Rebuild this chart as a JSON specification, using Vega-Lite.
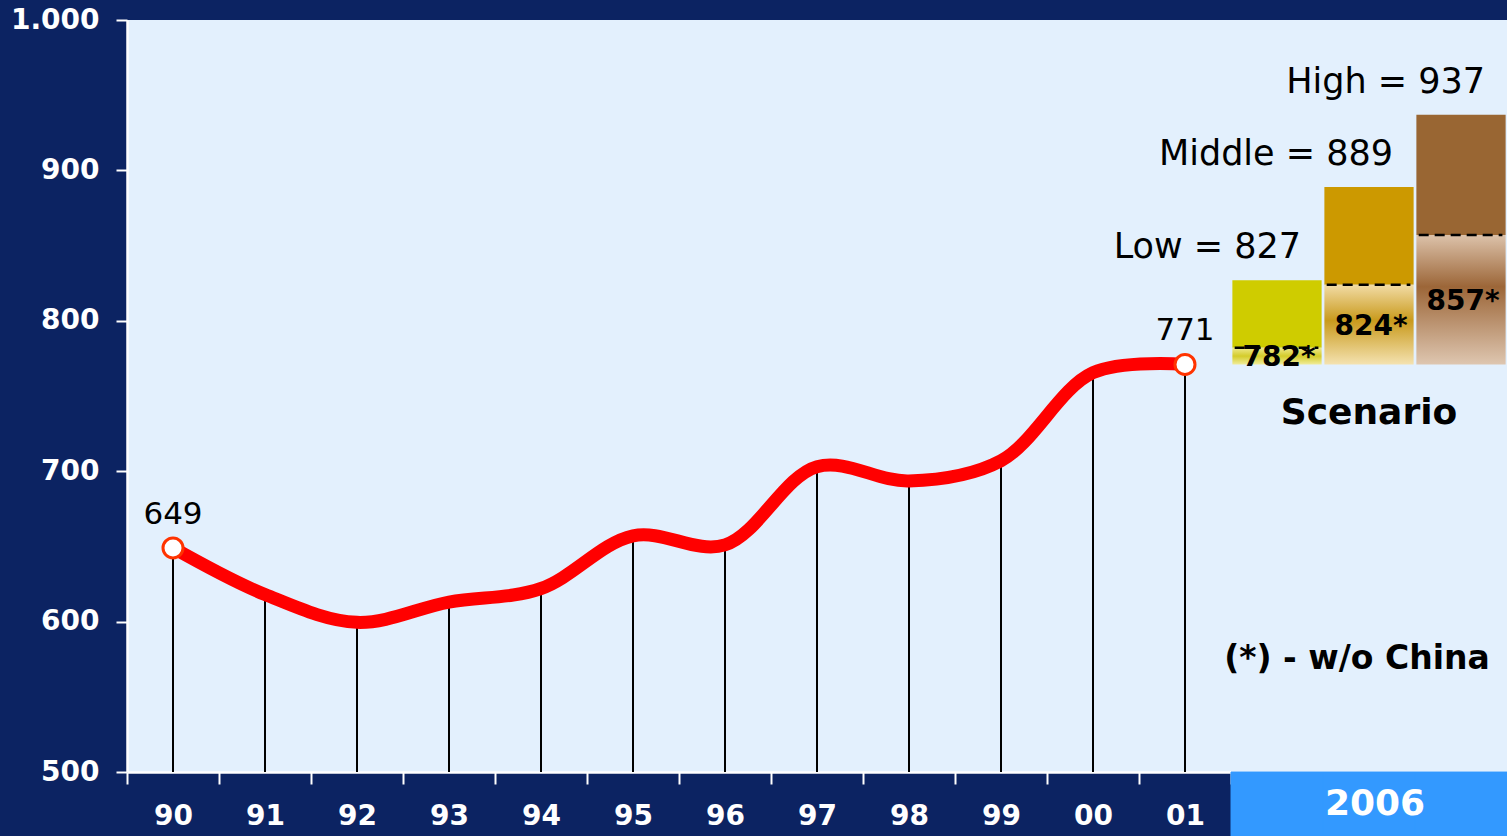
{
  "$schema": "https://vega.github.io/schema/vega-lite/v6.json",
  "width": 1380,
  "height": 752,
  "autosize": {"type": "none"},
  "padding": {"left": 127, "top": 20, "right": 0, "bottom": 64},
  "background": "#0c2362",
  "config": {"view": {"fill": "#E3F0FD", "stroke": null}, "font": "DejaVu Sans"},
  "datasets": {
    "hist": [
      {"cat": "90", "value": 649},
      {"cat": "91", "value": 618},
      {"cat": "92", "value": 599.5},
      {"cat": "93", "value": 613},
      {"cat": "94", "value": 622},
      {"cat": "95", "value": 657},
      {"cat": "96", "value": 651},
      {"cat": "97", "value": 703},
      {"cat": "98", "value": 693.5},
      {"cat": "99", "value": 707},
      {"cat": "00", "value": 765.5},
      {"cat": "01", "value": 771}
    ],
    "scen": [
      {"cat": "Low", "base": 771, "woChina": 782, "total": 827, "star": "782*", "title": "Low = 827"},
      {"cat": "Middle", "base": 771, "woChina": 824, "total": 889, "star": "824*", "title": "Middle = 889"},
      {"cat": "High", "base": 771, "woChina": 857, "total": 937, "star": "857*", "title": "High = 937"}
    ]
  },
  "encoding": {
    "x": {
      "field": "cat",
      "type": "nominal",
      "scale": {"domain": ["90","91","92","93","94","95","96","97","98","99","00","01","Low","Middle","High"], "paddingInner": 0, "paddingOuter": 0},
      "axis": {
        "title": null,
        "labelExpr": "indexof(['Low','Middle','High'], datum.value) >= 0 ? '' : datum.label",
        "labelColor": "white",
        "labelFont": "DejaVu Sans",
        "labelFontWeight": "bold",
        "labelFontSize": 28,
        "labelAngle": 0,
        "labelPadding": 18,
        "tickBand": "extent",
        "tickColor": "white",
        "tickSize": 12,
        "tickWidth": 2,
        "domainColor": "white",
        "domainWidth": 2.5,
        "grid": false,
        "zindex": 0
      }
    }
  },
  "layer": [
    {
      "data": {"name": "hist"},
      "mark": {"type": "rule", "color": "black", "strokeWidth": 2},
      "encoding": {
        "y": {
          "field": "value",
          "type": "quantitative",
          "scale": {"domain": [500, 1000], "nice": false, "zero": false},
          "axis": {
            "title": null,
            "values": [500, 600, 700, 800, 900, 1000],
            "labelExpr": "datum.value == 1000 ? '1.000' : datum.label",
            "labelColor": "white",
            "labelFont": "DejaVu Sans",
            "labelFontWeight": "bold",
            "labelFontSize": 28,
            "labelPadding": 17,
            "tickColor": "white",
            "tickSize": 11,
            "tickWidth": 2,
            "domainColor": "white",
            "domainWidth": 2.5,
            "grid": false,
            "zindex": 0
          }
        },
        "y2": {"datum": 500}
      }
    },
    {
      "data": {"name": "hist"},
      "mark": {"type": "line", "interpolate": "catmull-rom", "color": "#FF0000", "strokeWidth": 13, "strokeCap": "round", "strokeJoin": "round"},
      "encoding": {
        "y": {"field": "value", "type": "quantitative", "scale": {"domain": [500, 1000], "nice": false, "zero": false}, "title": null}
      }
    },
    {
      "data": {"name": "hist"},
      "transform": [{"filter": "datum.cat == '90' || datum.cat == '01'"}],
      "mark": {"type": "circle", "fill": "white", "stroke": "#FF3300", "strokeWidth": 3, "size": 400, "opacity": 1},
      "encoding": {
        "y": {"field": "value", "type": "quantitative", "scale": {"domain": [500, 1000], "nice": false, "zero": false}, "title": null}
      }
    },
    {
      "data": {"name": "hist"},
      "transform": [{"filter": "datum.cat == '90' || datum.cat == '01'"}],
      "mark": {"type": "text", "fontSize": 31, "dy": -24, "baseline": "alphabetic", "color": "black"},
      "encoding": {
        "y": {"field": "value", "type": "quantitative", "scale": {"domain": [500, 1000], "nice": false, "zero": false}, "title": null},
        "text": {"field": "value", "type": "quantitative", "format": "d"}
      }
    },
    {
      "data": {"name": "scen"},
      "mark": {"type": "bar", "width": {"band": 0.97}},
      "encoding": {
        "y": {"field": "woChina", "type": "quantitative", "scale": {"domain": [500, 1000], "nice": false, "zero": false}, "title": null},
        "y2": {"field": "total"},
        "color": {"field": "cat", "type": "nominal", "scale": {"domain": ["Low", "Middle", "High"], "range": ["#CFCC00", "#CC9900", "#996633"]}, "legend": null}
      }
    },
    {
      "data": {"name": "scen"},
      "transform": [{"filter": "datum.cat == 'Low'"}],
      "mark": {"type": "bar", "width": {"band": 0.97}, "fill": {"gradient": "linear", "x1": 0, "y1": 0, "x2": 0, "y2": 1, "stops": [{"offset": 0, "color": "#EEE98C"}, {"offset": 0.5, "color": "#D4CC2A"}, {"offset": 1, "color": "#F0EC9A"}]}},
      "encoding": {
        "y": {"field": "base", "type": "quantitative", "scale": {"domain": [500, 1000], "nice": false, "zero": false}, "title": null},
        "y2": {"field": "woChina"}
      }
    },
    {
      "data": {"name": "scen"},
      "transform": [{"filter": "datum.cat == 'Middle'"}],
      "mark": {"type": "bar", "width": {"band": 0.97}, "fill": {"gradient": "linear", "x1": 0, "y1": 0, "x2": 0, "y2": 1, "stops": [{"offset": 0, "color": "#F2DCA6"}, {"offset": 0.45, "color": "#C99A1C"}, {"offset": 1, "color": "#F4E2B0"}]}},
      "encoding": {
        "y": {"field": "base", "type": "quantitative", "scale": {"domain": [500, 1000], "nice": false, "zero": false}, "title": null},
        "y2": {"field": "woChina"}
      }
    },
    {
      "data": {"name": "scen"},
      "transform": [{"filter": "datum.cat == 'High'"}],
      "mark": {"type": "bar", "width": {"band": 0.97}, "fill": {"gradient": "linear", "x1": 0, "y1": 0, "x2": 0, "y2": 1, "stops": [{"offset": 0, "color": "#DCC2AA"}, {"offset": 0.4, "color": "#9C6638"}, {"offset": 1, "color": "#DEC6B0"}]}},
      "encoding": {
        "y": {"field": "base", "type": "quantitative", "scale": {"domain": [500, 1000], "nice": false, "zero": false}, "title": null},
        "y2": {"field": "woChina"}
      }
    },
    {
      "data": {"name": "scen"},
      "mark": {"type": "rule", "color": "black", "strokeWidth": 2.5, "strokeDash": [10, 6]},
      "encoding": {
        "x": {"field": "cat", "type": "nominal", "bandPosition": 0.04, "scale": {"domain": ["90","91","92","93","94","95","96","97","98","99","00","01","Low","Middle","High"], "paddingInner": 0, "paddingOuter": 0}, "title": null},
        "x2": {"field": "cat", "bandPosition": 0.95},
        "y": {"field": "woChina", "type": "quantitative", "scale": {"domain": [500, 1000], "nice": false, "zero": false}, "title": null}
      }
    },
    {
      "data": {"name": "scen"},
      "transform": [{"calculate": "(datum.base + datum.woChina) / 2", "as": "mid"}],
      "mark": {"type": "text", "fontSize": 28, "fontWeight": "bold", "color": "black", "baseline": "middle", "dx": 2, "dy": 2},
      "encoding": {
        "y": {"field": "mid", "type": "quantitative", "scale": {"domain": [500, 1000], "nice": false, "zero": false}, "title": null},
        "text": {"field": "star", "type": "nominal"}
      }
    },
    {
      "data": {"name": "scen"},
      "mark": {"type": "text", "fontSize": 35, "color": "black", "align": "right", "baseline": "alphabetic", "dx": 24, "dy": -22},
      "encoding": {
        "y": {"field": "total", "type": "quantitative", "scale": {"domain": [500, 1000], "nice": false, "zero": false}, "title": null},
        "text": {"field": "title", "type": "nominal"}
      }
    },
    {
      "data": {"name": "scen"},
      "mark": {"type": "bar", "width": {"band": 1}, "color": "#3399FF", "stroke": "#3399FF", "strokeWidth": 1, "clip": false},
      "encoding": {
        "y": {"datum": 500, "type": "quantitative", "scale": {"domain": [500, 1000], "nice": false, "zero": false}, "title": null},
        "y2": {"datum": 457.4}
      }
    },
    {
      "data": {"values": [{"t": "2006"}]},
      "mark": {"type": "text", "fontSize": 36, "fontWeight": "bold", "color": "white", "baseline": "middle", "dx": 6},
      "encoding": {
        "x": {"datum": "Middle", "type": "nominal", "scale": {"domain": ["90","91","92","93","94","95","96","97","98","99","00","01","Low","Middle","High"], "paddingInner": 0, "paddingOuter": 0}, "title": null},
        "y": {"datum": 478.5, "type": "quantitative", "scale": {"domain": [500, 1000], "nice": false, "zero": false}, "title": null},
        "text": {"field": "t", "type": "nominal"}
      }
    },
    {
      "data": {"values": [{"t": "Scenario"}]},
      "mark": {"type": "text", "fontSize": 36, "fontWeight": "bold", "color": "black", "baseline": "middle"},
      "encoding": {
        "x": {"datum": "Middle", "type": "nominal", "scale": {"domain": ["90","91","92","93","94","95","96","97","98","99","00","01","Low","Middle","High"], "paddingInner": 0, "paddingOuter": 0}, "title": null},
        "y": {"datum": 739, "type": "quantitative", "scale": {"domain": [500, 1000], "nice": false, "zero": false}, "title": null},
        "text": {"field": "t", "type": "nominal"}
      }
    },
    {
      "data": {"values": [{"t": "(*) - w/o China"}]},
      "mark": {"type": "text", "fontSize": 33, "fontWeight": "bold", "color": "black", "baseline": "middle", "dx": -12},
      "encoding": {
        "x": {"datum": "Middle", "type": "nominal", "scale": {"domain": ["90","91","92","93","94","95","96","97","98","99","00","01","Low","Middle","High"], "paddingInner": 0, "paddingOuter": 0}, "title": null},
        "y": {"datum": 575, "type": "quantitative", "scale": {"domain": [500, 1000], "nice": false, "zero": false}, "title": null},
        "text": {"field": "t", "type": "nominal"}
      }
    }
  ]
}
